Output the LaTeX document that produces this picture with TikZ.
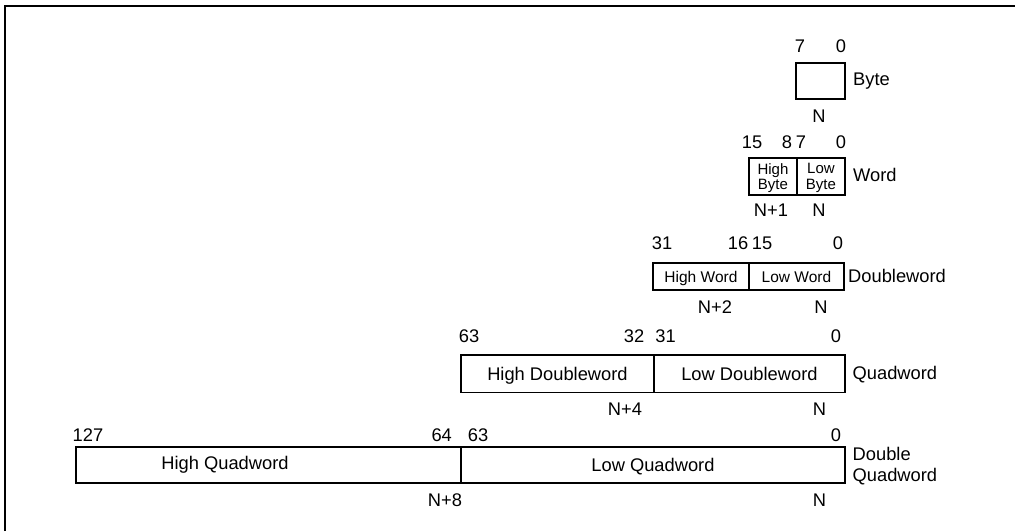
\documentclass[tikz,border=0pt]{standalone}
\usepackage{fontspec}
\setmainfont{Liberation Sans}
\begin{document}
\begin{tikzpicture}[x=1pt, y=-1pt, every node/.style={font=\fontsize{18.3}{21.6}\selectfont, inner sep=0pt}, bit/.style={anchor=base}, sizename/.style={anchor=base west}, cellbase/.style={draw, line width=1.9pt, anchor=north west}, cell/.style={cellbase, text height=13.1pt, text depth=0pt}, smallcell/.style={cellbase, font=\fontsize{15.5}{16}\selectfont, text height=11.1pt, text depth=0pt}, wordcell/.style={cellbase, font=\fontsize{15}{15.5}\selectfont, align=center, text depth=0pt}, celltext/.style={text height=13.1pt, text depth=0pt}, frame/.style={line width=2.3pt}]
\useasboundingbox (0,0) rectangle (1015,531);
\draw[frame] (5,531) -- (5,6) -- (1015,6);
% byte
\node[bit] (b7) at (800,52.5) {7};
\node[bit] (b0) at (841,52.5) {0};
\node[cell, minimum width=49, minimum height=36] (byte) at (795,62) {};
\node[sizename] (bname) at (853,85) {Byte};
\node[bit] (bn) at (819,122) {N};
% word
\node[bit] (w15) at (752,148.5) {15};
\node[bit] (w8) at (787,148.5) {8};
\node[bit] (w7) at (801,148.5) {7};
\node[bit] (w0) at (841,148.5) {0};
\node[wordcell, minimum width=48, minimum height=37] (wordhi) at (748,157) {High\\Byte};
\node[wordcell, minimum width=48, minimum height=37] (wordlo) at (796,157) {Low\\Byte};
\node[sizename] (wname) at (853,181.7) {Word};
\node[bit] (wn1) at (771,216) {N+1};
\node[bit] (wn) at (819,216) {N};
% doubleword
\node[bit] (d31) at (662,249.5) {31};
\node[bit] (d16) at (738,249.5) {16};
\node[bit] (d15) at (762,249.5) {15};
\node[bit] (d0) at (838,249.5) {0};
\node[smallcell, minimum width=96, minimum height=27] (dwhi) at (652,262) {High Word};
\node[smallcell, minimum width=95, minimum height=27] (dwlo) at (748,262) {Low Word};
\node[sizename] (dname) at (848,282) {Doubleword};
\node[bit] (dn2) at (715,313) {N+2};
\node[bit] (dn) at (821,313) {N};
% quadword
\node[bit] (q63) at (469,342.5) {63};
\node[bit] (q32) at (634,342.5) {32};
\node[bit] (q31) at (665.5,342.5) {31};
\node[bit] (q0) at (836,342.5) {0};
\node[cell, minimum width=193, minimum height=37.5] (qwhi) at (460,354) {High Doubleword};
\node[cell, minimum width=191, minimum height=37.5] (qwlo) at (653,354) {Low Doubleword};
\node[sizename] (qname) at (852.5,379) {Quadword};
\node[bit] (qn4) at (625,415) {N+4};
\node[bit] (qn) at (819.5,415) {N};
% double quadword
\node[bit] (x127) at (88,441) {127};
\node[bit] (x64) at (441.7,441) {64};
\node[bit] (x63) at (478,441) {63};
\node[bit] (x0) at (836,441) {0};
\node[cell, minimum width=385, minimum height=36] (dqhi) at (75,445.7) {};
\node[celltext] (dqhitext) at (225,463.2) {High Quadword};
\node[cell, minimum width=384, minimum height=36] (dqlo) at (460,445.7) {Low Quadword};
\node[anchor=west, align=left] (xname) at (852.5,466) {Double\\Quadword};
\node[bit] (xn8) at (445,506) {N+8};
\node[bit] (xn) at (819.5,506) {N};
\end{tikzpicture}
\end{document}
